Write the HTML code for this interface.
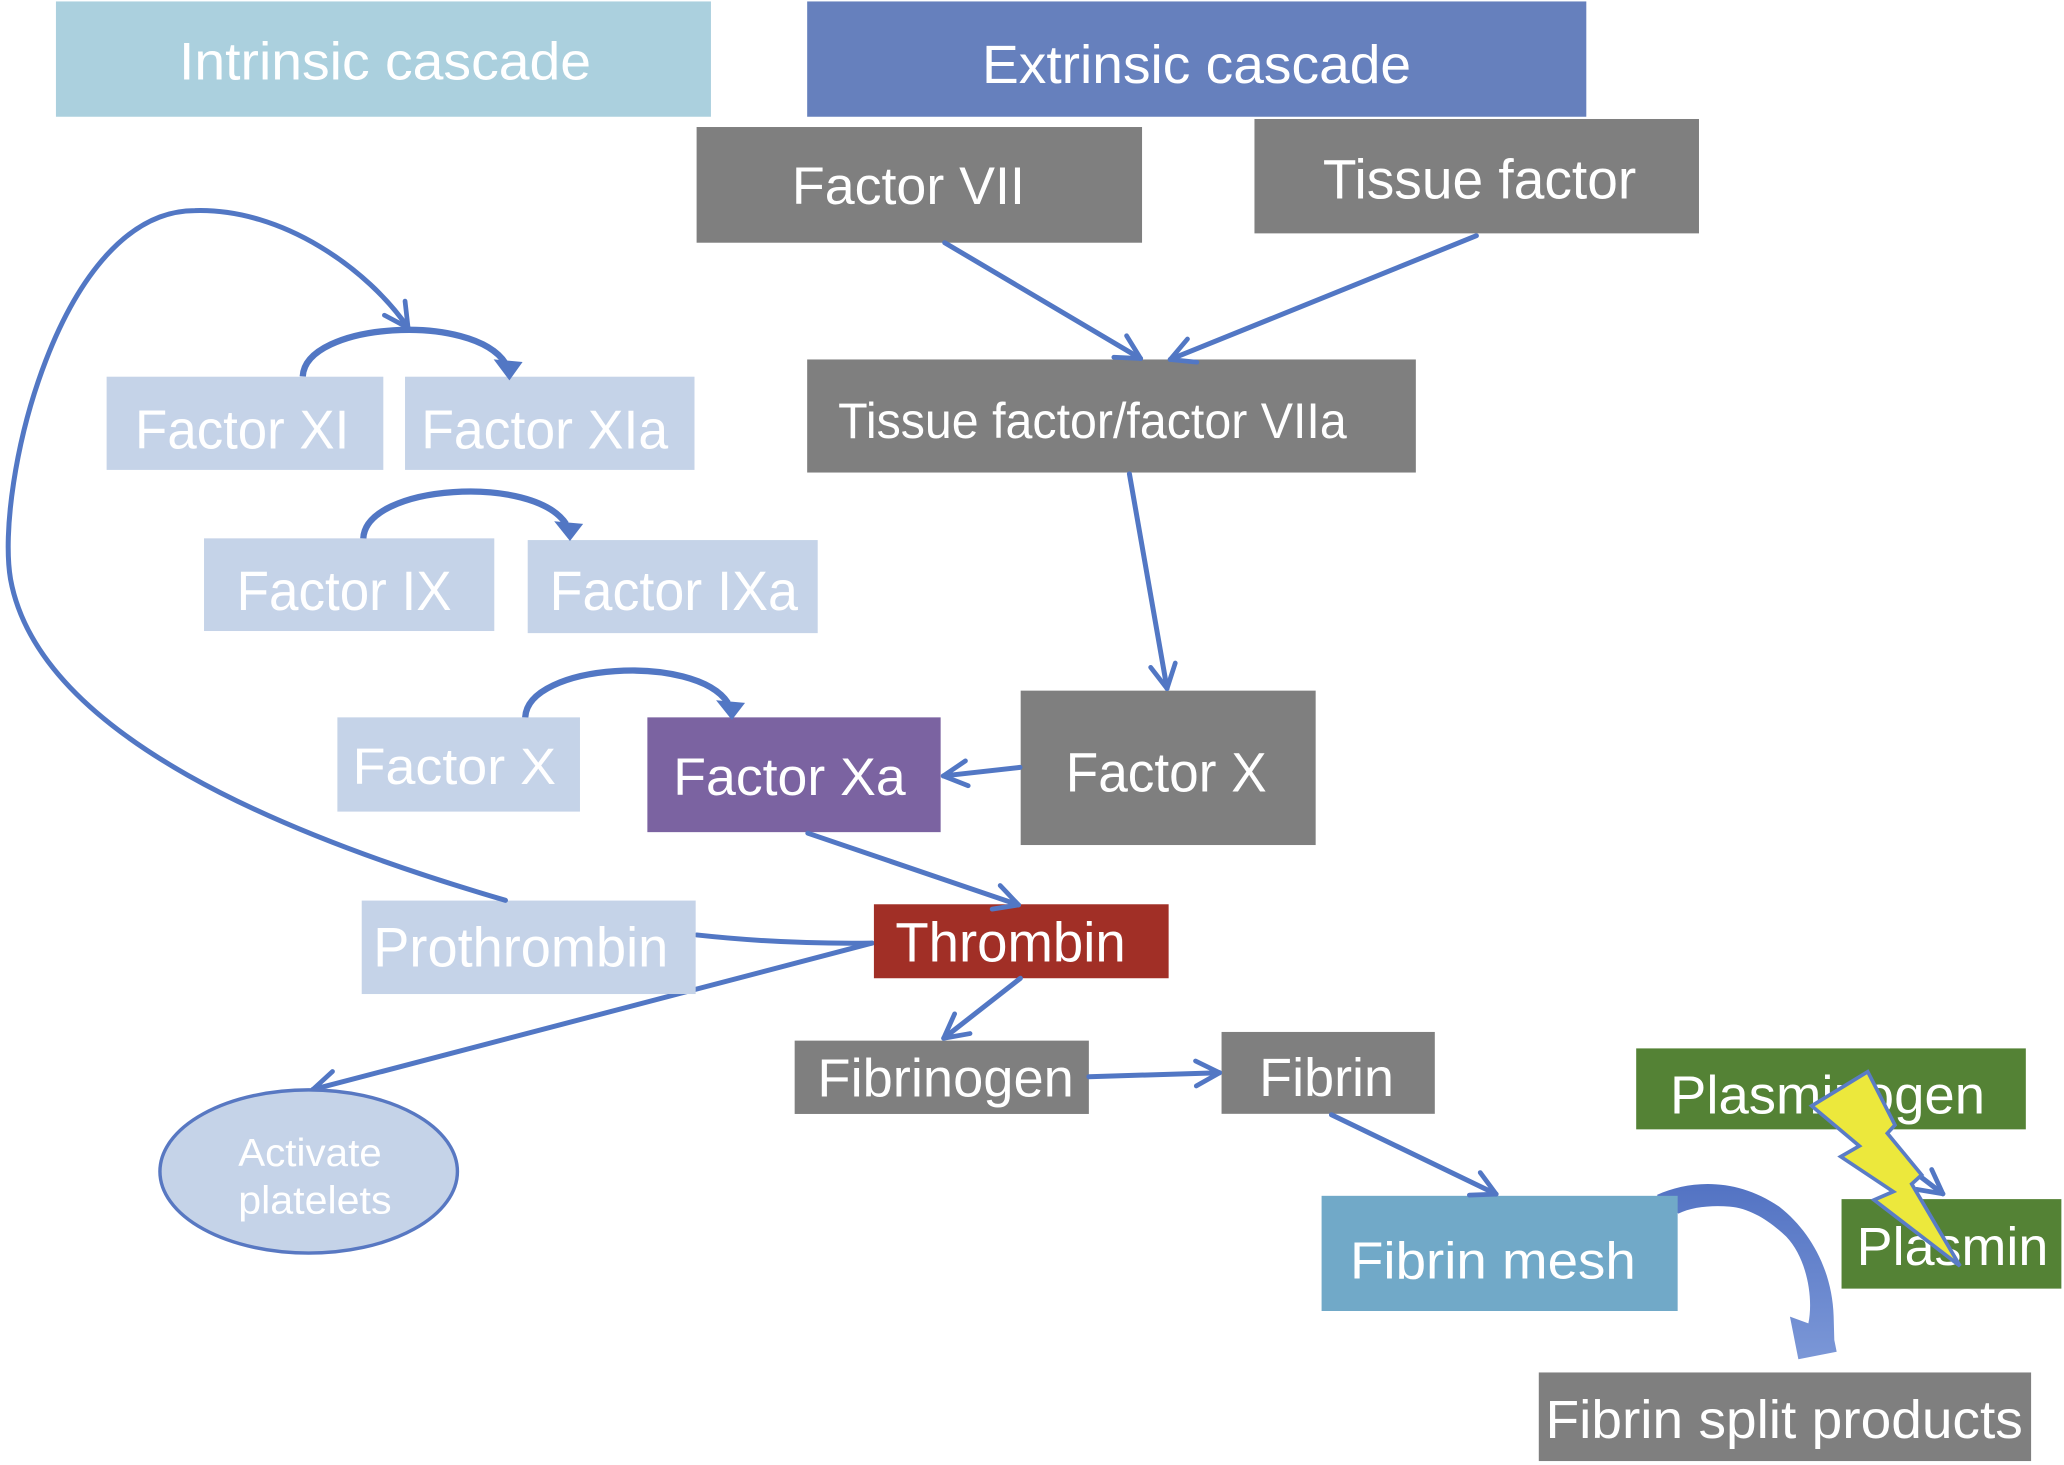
<!DOCTYPE html>
<html><head><meta charset="utf-8">
<style>
html,body{margin:0;padding:0;background:#fff;}
svg{display:block;}
text{font-family:"Liberation Sans",Arial,sans-serif;fill:#fff;}
</style></head><body>
<svg width="2064" height="1465" viewBox="0 0 1568 1113" preserveAspectRatio="none" xmlns="http://www.w3.org/2000/svg">
<defs>
<marker id="ah" viewBox="0 0 24 24" refX="21" refY="12" markerWidth="24" markerHeight="24" markerUnits="userSpaceOnUse" orient="auto">
<path d="M3,2.5 L21,12 L3,21.5" fill="none" stroke="#5277c4" stroke-width="3.6" stroke-linecap="round" stroke-linejoin="round"/>
</marker>
<linearGradient id="cg" x1="0" y1="0" x2="0" y2="1">
<stop offset="0" stop-color="#5373c3"/><stop offset="1" stop-color="#7b97d7"/>
</linearGradient>
</defs>

<!-- lines beneath boxes -->
<g stroke="#5277c4" stroke-width="3.8" fill="none" stroke-linecap="round">
<path d="M529.3,710.3 Q594,717.4 662.5,716.5"/>
<path d="M662.5,716.5 L237.6,827.8" marker-end="url(#ah)"/>
</g>
<path d="M1258.6,907.9 C1285,896 1320,895 1352,917 C1375,935 1392,965 1393,1000 L1393.5,1018 L1395.3,1027 L1366.2,1032.7 L1359.8,1000.3 L1373.8,1005.4 C1378,985 1372,955 1357,939.5 C1345,928 1330,918 1314,916.7 C1300,915.5 1285,917 1275,922 Z" fill="url(#cg)"/>

<!-- header boxes -->
<rect x="42.5" y="1.1" width="497.6" height="87.6" fill="#abd0de"/>
<rect x="613.2" y="1.1" width="591.9" height="87.6" fill="#6680bd"/>

<!-- gray boxes -->
<rect x="529.2" y="96.5" width="338.4" height="87.9" fill="#7f7f7f"/>
<rect x="953" y="90.4" width="337.7" height="86.9" fill="#7f7f7f"/>
<rect x="613.2" y="273.1" width="462.4" height="85.9" fill="#7f7f7f"/>
<rect x="775.4" y="524.7" width="224.1" height="117.3" fill="#7f7f7f"/>
<rect x="603.7" y="790.6" width="223.5" height="55.7" fill="#7f7f7f"/>
<rect x="928" y="784" width="162" height="62.2" fill="#7f7f7f"/>
<rect x="1169" y="1042.7" width="374" height="67.3" fill="#7f7f7f"/>

<!-- light boxes -->
<rect x="81" y="286.2" width="210.2" height="70.8" fill="#c5d3e8"/>
<rect x="307.7" y="286.2" width="219.9" height="70.8" fill="#c5d3e8"/>
<rect x="155" y="409" width="220.5" height="70.4" fill="#c5d3e8"/>
<rect x="400.9" y="410.3" width="220.3" height="70.7" fill="#c5d3e8"/>
<rect x="256.3" y="545" width="184.3" height="71.6" fill="#c5d3e8"/>
<rect x="274.8" y="684.2" width="253.7" height="71" fill="#c5d3e8"/>

<!-- colored boxes -->
<rect x="491.8" y="545" width="222.8" height="87.2" fill="#7b63a1"/>
<rect x="663.9" y="687" width="223.9" height="56.2" fill="#a12f26"/>
<rect x="1243" y="796.5" width="296" height="61.5" fill="#548235"/>
<rect x="1399" y="911" width="167" height="68" fill="#548235"/>
<rect x="1004" y="908.5" width="270.5" height="87.5" fill="#71a9c8"/>

<!-- ellipse -->
<ellipse cx="234.5" cy="890" rx="113" ry="62" fill="#c5d3e8" stroke="#5878c2" stroke-width="2.6"/>

<!-- connectors on top -->
<g stroke="#5277c4" stroke-width="3.8" fill="none" stroke-linecap="round">
<path d="M717.7,184.4 L866.5,272.4" marker-end="url(#ah)"/>
<path d="M1121.6,179.1 L889,273.1" marker-end="url(#ah)"/>
<path d="M858,360 L886.6,523.1" marker-end="url(#ah)"/>
<path d="M774.9,583 L716.6,589.5" marker-end="url(#ah)"/>
<path d="M613.7,633 L773.8,687.5" marker-end="url(#ah)"/>
<path d="M775.2,743.2 L716.9,788.8" marker-end="url(#ah)"/>
<path d="M827.2,818 L926.5,815" marker-end="url(#ah)"/>
<path d="M1011.5,846.9 L1136.6,907.2" marker-end="url(#ah)"/>
<path d="M1412,858 L1476,907" marker-end="url(#ah)"/>
<path d="M384,684 C220,636 30,560 8,440 C-4,370 45,160 148,160 C215,158 280,205 310,249" marker-end="url(#ah)"/>
</g>
<!-- small curved arrows -->
<g stroke="#5277c4" stroke-width="4.8" fill="none" stroke-linecap="butt">
<path d="M230,286 C232,245 359,237 384,276"/>
<path d="M276,409 C278,368 405,360 430,398"/>
<path d="M399,545 C401,504 528,496 553,534"/>
</g>
<g fill="#5277c4">
<polygon points="375,273 397,275 387,289"/>
<polygon points="421,396 443,398 433,411"/>
<polygon points="544,532 566,534 556,547"/>
</g>

<!-- texts -->
<text x="136" y="60.3" font-size="40.5" textLength="313" lengthAdjust="spacingAndGlyphs">Intrinsic cascade</text>
<text x="746" y="63.1" font-size="41" textLength="326" lengthAdjust="spacingAndGlyphs">Extrinsic cascade</text>
<text x="601.6" y="155" font-size="40.5" textLength="177" lengthAdjust="spacingAndGlyphs">Factor VII</text>
<text x="1005" y="150.7" font-size="42" textLength="238" lengthAdjust="spacingAndGlyphs">Tissue factor</text>
<text x="636.7" y="332.7" font-size="37.7" textLength="386.4" lengthAdjust="spacingAndGlyphs">Tissue factor/factor VIIa</text>
<text x="102.6" y="340.6" font-size="41.8" textLength="162.8" lengthAdjust="spacingAndGlyphs">Factor XI</text>
<text x="320" y="340.6" font-size="41.8" textLength="187.6" lengthAdjust="spacingAndGlyphs">Factor XIa</text>
<text x="179.8" y="463.4" font-size="42.5" textLength="163.3" lengthAdjust="spacingAndGlyphs">Factor IX</text>
<text x="417.6" y="463.4" font-size="42.5" textLength="188.6" lengthAdjust="spacingAndGlyphs">Factor IXa</text>
<text x="267.9" y="595.6" font-size="39" textLength="154.5" lengthAdjust="spacingAndGlyphs">Factor X</text>
<text x="511.5" y="604" font-size="40" textLength="176.5" lengthAdjust="spacingAndGlyphs">Factor Xa</text>
<text x="809.6" y="601.4" font-size="42.5" textLength="152.7" lengthAdjust="spacingAndGlyphs">Factor X</text>
<text x="283.6" y="734.4" font-size="42.5" textLength="224.1" lengthAdjust="spacingAndGlyphs">Prothrombin</text>
<text x="680.2" y="730.6" font-size="42.5" textLength="175" lengthAdjust="spacingAndGlyphs">Thrombin</text>
<text x="621" y="833.2" font-size="40.8" textLength="194.8" lengthAdjust="spacingAndGlyphs">Fibrinogen</text>
<text x="956.6" y="832.7" font-size="41" textLength="102.4" lengthAdjust="spacingAndGlyphs">Fibrin</text>
<text x="1025.6" y="971.2" font-size="39.5" textLength="217.1" lengthAdjust="spacingAndGlyphs">Fibrin mesh</text>
<text x="1268.7" y="845.8" font-size="40.7" textLength="239.3" lengthAdjust="spacingAndGlyphs">Plasminogen</text>
<text x="1410.5" y="961" font-size="40.7" textLength="145.6" lengthAdjust="spacingAndGlyphs">Plasmin</text>
<text x="1174.1" y="1092.4" font-size="40.6" textLength="362.6" lengthAdjust="spacingAndGlyphs">Fibrin split products</text>
<text x="181" y="885.7" font-size="29.7" textLength="109" lengthAdjust="spacingAndGlyphs">Activate</text>
<text x="181" y="921.9" font-size="29.7" textLength="116.5" lengthAdjust="spacingAndGlyphs">platelets</text>

<!-- lightning bolt -->
<polygon points="1418.9,814.2 1439.6,854.7 1433.8,861 1459.9,892.6 1452.3,899.5 1489,961.8 1423.7,911.6 1438.3,905.3 1398.4,878.7 1412.5,870.6 1376.3,840.2" fill="#ece83c" stroke="#5a7cc6" stroke-width="2.8" stroke-linejoin="miter"/>
</svg>
</body></html>
